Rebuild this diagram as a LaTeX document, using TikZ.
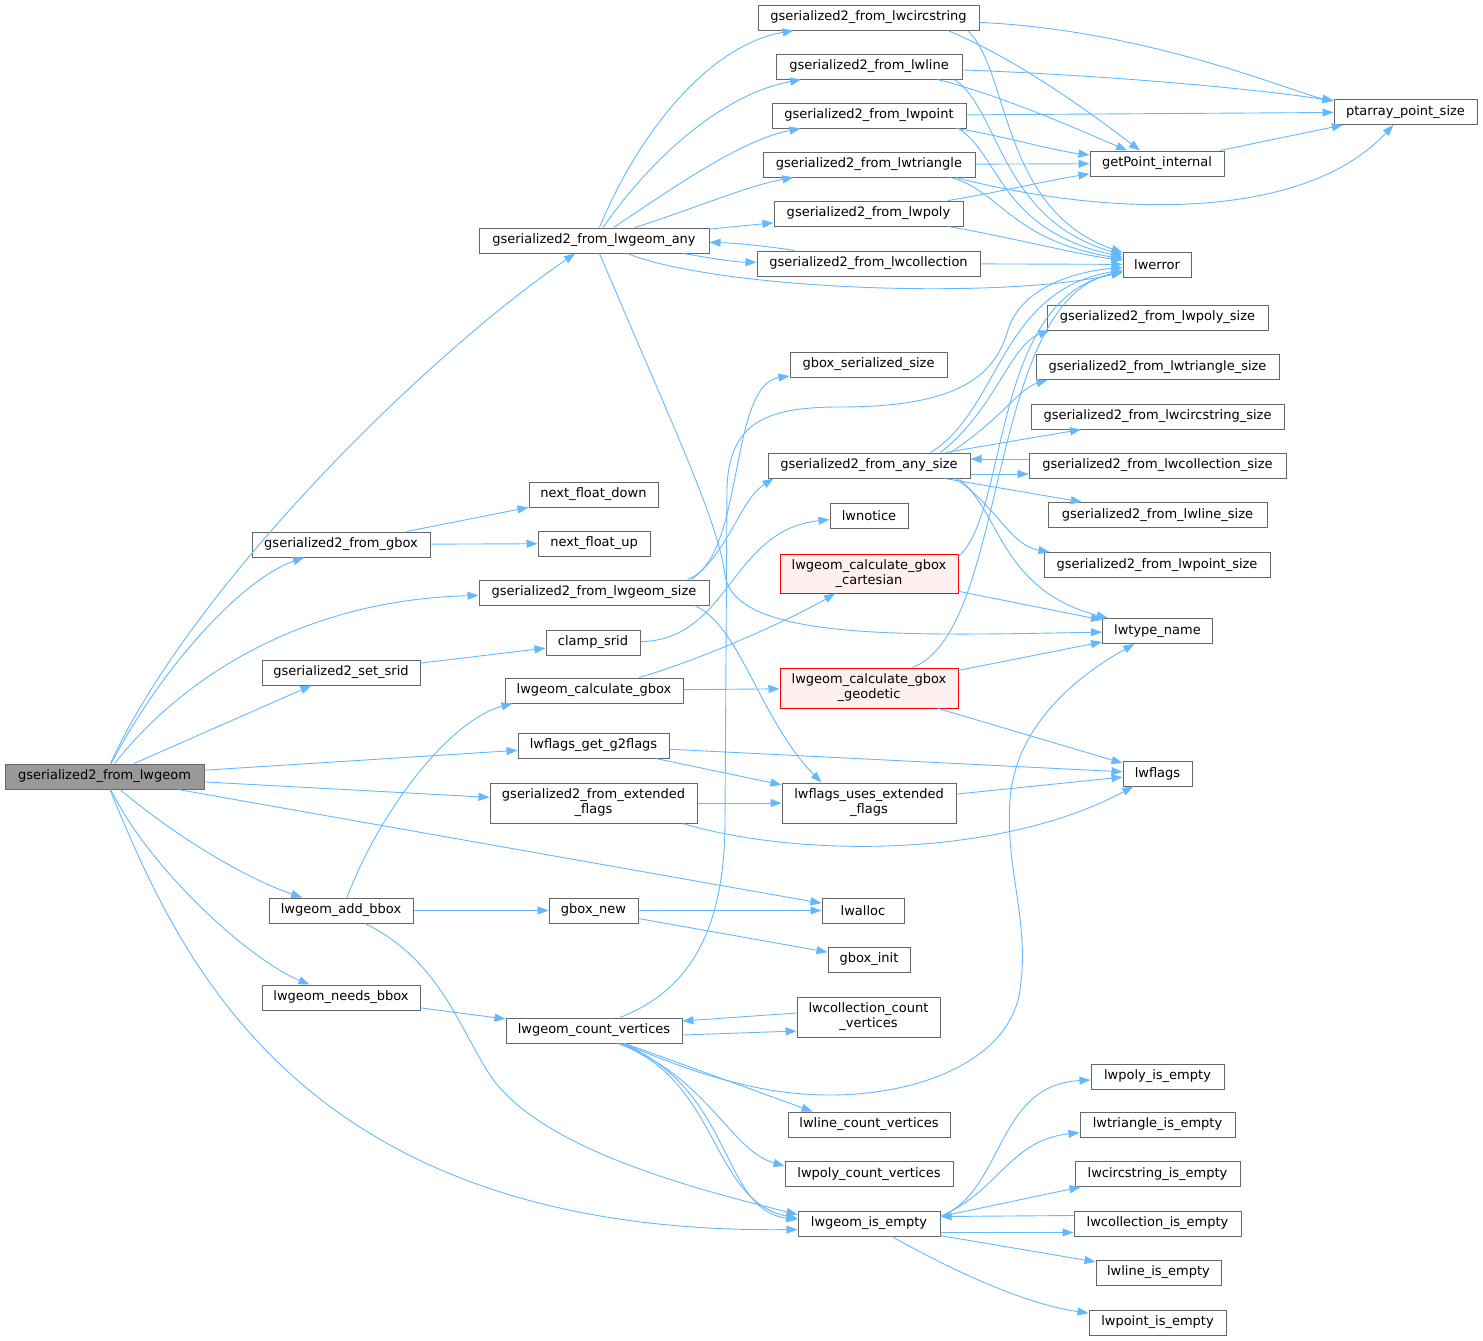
\documentclass[tikz,border=0pt]{standalone}
\usepackage{fontspec}
\setmainfont{DejaVu Sans}
\usetikzlibrary{arrows.meta}
\definecolor{eb}{HTML}{63B8FF}
\definecolor{bd}{HTML}{666666}
\definecolor{mainfill}{HTML}{999999}
\definecolor{hotline}{HTML}{FF0000}
\definecolor{hotfill}{HTML}{FFF0F0}
\begin{document}
\begin{tikzpicture}[x=1pt,y=-1pt,
  box/.style={draw=bd, fill=white, line width=1pt, inner sep=0pt, minimum height=25pt,
    font=\fontsize{13}{15}\selectfont, align=center},
  mainbox/.style={box, fill=mainfill},
  hotbox/.style={box, draw=hotline, fill=hotfill, minimum height=40pt},
  twobox/.style={box, minimum height=40pt},
  edg/.style={draw=eb, line width=0.9pt, -{Triangle[length=11pt,width=8pt]}}
]
\useasboundingbox (0,0) rectangle (1483,1341);
% ---------- nodes ----------
\node[mainbox, minimum width=199pt] (main) at (104.5,776.5) {gserialized2\_from\_lwgeom};
\node[box, minimum width=230pt] (any) at (594,240.5) {gserialized2\_from\_lwgeom\_any};
\node[box, minimum width=178pt] (fgbox) at (341,544.5) {gserialized2\_from\_gbox};
\node[box, minimum width=230pt] (lsize) at (594,592.5) {gserialized2\_from\_lwgeom\_size};
\node[box, minimum width=158pt] (setsrid) at (341,672.5) {gserialized2\_set\_srid};
\node[box, minimum width=151pt] (g2flags) at (593.5,745.5) {lwflags\_get\_g2flags};
\node[twobox, minimum width=207pt] (extflags) at (593.5,803) {gserialized2\_from\_extended\\\_flags};
\node[box, minimum width=144pt] (addbbox) at (341,910.5) {lwgeom\_add\_bbox};
\node[box, minimum width=158pt] (needsbbox) at (341,997.5) {lwgeom\_needs\_bbox};
\node[box, minimum width=178pt] (calcgbox) at (594,690.5) {lwgeom\_calculate\_gbox};
\node[box, minimum width=94pt] (clamp) at (593,642.5) {clamp\_srid};
\node[box, minimum width=89pt] (gboxnew) at (593.5,910.5) {gbox\_new};
\node[box, minimum width=176pt] (countv) at (594,1030.5) {lwgeom\_count\_vertices};
\node[box, minimum width=129pt] (nfdown) at (593.5,494.5) {next\_float\_down};
\node[box, minimum width=112pt] (nfup) at (594,543.5) {next\_float\_up};
\node[box, minimum width=221pt] (circ) at (868.5,17.5) {gserialized2\_from\_lwcircstring};
\node[box, minimum width=186pt] (line) at (869,66.5) {gserialized2\_from\_lwline};
\node[box, minimum width=194pt] (point) at (869,115.5) {gserialized2\_from\_lwpoint};
\node[box, minimum width=212pt] (tri) at (869,164.5) {gserialized2\_from\_lwtriangle};
\node[box, minimum width=189pt] (poly) at (868.5,213.5) {gserialized2\_from\_lwpoly};
\node[box, minimum width=223pt] (coll) at (868.5,263.5) {gserialized2\_from\_lwcollection};
\node[box, minimum width=157pt] (gbss) at (868.5,364.5) {gbox\_serialized\_size};
\node[box, minimum width=202pt] (anysize) at (869,465.5) {gserialized2\_from\_any\_size};
\node[box, minimum width=78pt] (lwnotice) at (869,515.5) {lwnotice};
\node[hotbox, minimum width=178pt, minimum height=39pt] (cart) at (869,573.5) {lwgeom\_calculate\_gbox\\\_cartesian};
\node[hotbox, minimum width=178pt] (geod) at (869,688) {lwgeom\_calculate\_gbox\\\_geodetic};
\node[twobox, minimum width=174pt] (usesext) at (869,803) {lwflags\_uses\_extended\\\_flags};
\node[box, minimum width=82pt] (lwalloc) at (863,910.5) {lwalloc};
\node[box, minimum width=82pt] (gboxinit) at (869,959.5) {gbox\_init};
\node[twobox, minimum width=143pt] (collcv) at (868.5,1017) {lwcollection\_count\\\_vertices};
\node[box, minimum width=162pt] (linecv) at (869,1124.5) {lwline\_count\_vertices};
\node[box, minimum width=168pt] (polycv) at (869,1174) {lwpoly\_count\_vertices};
\node[box, minimum width=142pt] (isempty) at (869,1223.5) {lwgeom\_is\_empty};
\node[box, minimum width=143pt] (ptarr) at (1405.5,112) {ptarray\_point\_size};
\node[box, minimum width=134pt] (getpt) at (1157,163.5) {getPoint\_internal};
\node[box, minimum width=68pt] (lwerror) at (1157,264.5) {lwerror};
\node[box, minimum width=221pt] (polysize) at (1157.5,317.5) {gserialized2\_from\_lwpoly\_size};
\node[box, minimum width=243pt] (trisize) at (1157.5,367) {gserialized2\_from\_lwtriangle\_size};
\node[box, minimum width=253pt] (circsize) at (1157.5,416.5) {gserialized2\_from\_lwcircstring\_size};
\node[box, minimum width=257pt] (collsize) at (1157.5,465.5) {gserialized2\_from\_lwcollection\_size};
\node[box, minimum width=219pt] (linesize) at (1157.5,515) {gserialized2\_from\_lwline\_size};
\node[box, minimum width=226pt] (pointsize) at (1157,565) {gserialized2\_from\_lwpoint\_size};
\node[box, minimum width=110pt] (lwtype) at (1157.5,631) {lwtype\_name};
\node[box, minimum width=69pt] (lwflags) at (1157.5,773.5) {lwflags};
\node[box, minimum width=133pt] (polyie) at (1157.5,1076.5) {lwpoly\_is\_empty};
\node[box, minimum width=155pt] (triie) at (1157.5,1124.5) {lwtriangle\_is\_empty};
\node[box, minimum width=165pt] (circie) at (1157.5,1174) {lwcircstring\_is\_empty};
\node[box, minimum width=167pt] (collie) at (1157.5,1223.5) {lwcollection\_is\_empty};
\node[box, minimum width=125pt] (lineie) at (1158.5,1272.5) {lwline\_is\_empty};
\node[box, minimum width=137pt] (pointie) at (1157.5,1322.5) {lwpoint\_is\_empty};
% ---------- edges ----------
% from gserialized2_from_lwgeom
\draw[edg] (main) .. controls (190,590) and (420,360) .. (any);
\draw[edg] (main) .. controls (160,670) and (240,580) .. (fgbox);
\draw[edg] (main) .. controls (180,680) and (300,600) .. (lsize);
\draw[edg] (main) -- (setsrid);
\draw[edg] (main) -- (g2flags);
\draw[edg] (main) -- (extflags);
\draw[edg] (main) -- (lwalloc);
\draw[edg] (main) .. controls (180,840) and (250,880) .. (addbbox);
\draw[edg] (main) .. controls (150,870) and (250,960) .. (needsbbox);
\draw[edg] (main) .. controls (180,960) and (300,1235) .. ([yshift=-6pt]isempty.west);
% from gserialized2_from_lwgeom_any
\draw[edg] (any) .. controls (640,130) and (710,45) .. (circ);
\draw[edg] (any) .. controls (650,160) and (720,95) .. (line);
\draw[edg] (any) .. controls (670,190) and (740,140) .. (point);
\draw[edg] (any) .. controls (690,210) and (750,185) .. (tri);
\draw[edg] (any) -- (poly);
\draw[edg] (any) .. controls (700,256) and (730,262) .. (coll);
\draw[edg] (coll) .. controls (780,248) and (740,243) .. (any);
\draw[edg] (any) .. controls (720,290) and (1000,300) .. (lwerror);
\draw[edg] (any) .. controls (670,420) and (718,520) .. (725,575) .. controls (735,640) and (900,636) .. (lwtype);
% from the serializers
\draw[edg] (circ) .. controls (1150,30) and (1300,95) .. (ptarr);
\draw[edg] ([xshift=-32pt]circ.south east) .. controls (1020,60) and (1100,120) .. (getpt);
\draw[edg] ([xshift=-12pt]circ.south east) .. controls (1010,70) and (1000,210) .. (lwerror);
\draw[edg] (line) .. controls (1100,75) and (1250,88) .. (ptarr);
\draw[edg] ([xshift=-25pt]line.south east) .. controls (1000,95) and (1080,130) .. (getpt);
\draw[edg] ([xshift=-8pt]line.south east) .. controls (1000,110) and (1000,220) .. (lwerror);
\draw[edg] (point) -- (ptarr);
\draw[edg] (point) .. controls (1000,135) and (1050,150) .. (getpt);
\draw[edg] ([xshift=-8pt]point.south east) .. controls (1000,155) and (1000,230) .. (lwerror);
\draw[edg] (tri) -- (getpt);
\draw[edg] ([xshift=-20pt]tri.south east) .. controls (1100,215) and (1300,225) .. (ptarr);
\draw[edg] ([xshift=-25pt]tri.south east) .. controls (1000,190) and (1010,240) .. (lwerror);
\draw[edg] (poly) .. controls (1000,192) and (1050,180) .. (getpt);
\draw[edg] (poly) .. controls (1000,235) and (1080,255) .. (lwerror);
\draw[edg] (coll) -- (lwerror);
\draw[edg] (getpt) -- (ptarr);
% from gserialized2_from_lwgeom_size
\draw[edg] ([xshift=-22pt]lsize.north east) .. controls (745,560) and (728,385) .. (gbss);
\draw[edg] ([xshift=-18pt]lsize.north east) .. controls (730,550) and (740,500) .. ([xshift=6pt]anysize.south west);
\draw[edg] ([xshift=-15pt]lsize.south east) .. controls (740,625) and (760,720) .. ([xshift=40pt]usesext.north west);
% from gserialized2_from_any_size
\draw[edg] ([xshift=-30pt]anysize.north east) .. controls (995,410) and (1010,345) .. ([xshift=3pt]polysize.south west);
\draw[edg] ([xshift=-20pt]anysize.north east) .. controls (1000,420) and (1020,388) .. ([xshift=12pt]trisize.south west);
\draw[edg] (anysize) -- (circsize);
\draw[edg] ([yshift=-8.5pt]anysize.east) -- ([yshift=-8.5pt]collsize.west);
\draw[edg] ([yshift=6.5pt]collsize.west) -- ([yshift=6.5pt]anysize.east);
\draw[edg] (anysize) -- (linesize);
\draw[edg] ([xshift=-15pt]anysize.south east) .. controls (1000,510) and (1010,545) .. ([xshift=6pt]pointsize.north west);
\draw[edg] ([xshift=-40pt]anysize.north east) .. controls (1000,410) and (1000,290) .. (lwerror);
\draw[edg] ([xshift=-12pt]anysize.south east) .. controls (1000,510) and (1000,590) .. (lwtype);
% bbox calculation
\draw[edg] (clamp) .. controls (730,640) and (730,530) .. (lwnotice);
\draw[edg] (calcgbox) .. controls (700,660) and (790,620) .. (cart);
\draw[edg] (calcgbox) -- (geod);
\draw[edg] ([yshift=-3pt]cart.north east) .. controls (1010,510) and (990,300) .. (lwerror);
\draw[edg] (cart) -- (lwtype);
\draw[edg] ([xshift=-46pt]geod.north east) .. controls (1010,630) and (985,300) .. (lwerror);
\draw[edg] (geod) -- (lwtype);
\draw[edg] (geod) -- (lwflags);
% flags
\draw[edg] (g2flags) -- (lwflags);
\draw[edg] (g2flags) -- (usesext);
\draw[edg] (extflags) -- (usesext);
\draw[edg] ([xshift=-15pt]extflags.south east) .. controls (800,858) and (1000,858) .. (lwflags);
\draw[edg] (usesext) -- (lwflags);
% left column
\draw[edg] (setsrid) -- (clamp);
\draw[edg] (fgbox) -- (nfdown);
\draw[edg] (fgbox) -- (nfup);
\draw[edg] ([xshift=6pt]addbbox.north) .. controls (380,810) and (450,720) .. ([xshift=8pt]calcgbox.south west);
\draw[edg] (addbbox) -- (gboxnew);
\draw[edg] ([xshift=24pt]addbbox.south) .. controls (440,960) and (460,1030) .. (490,1075) .. controls (540,1150) and (700,1190) .. ([yshift=9pt]isempty.west);
\draw[edg] (gboxnew) -- (lwalloc);
\draw[edg] (gboxnew) -- (gboxinit);
\draw[edg] (needsbbox) -- (countv);
% lwgeom_count_vertices
\draw[edg] ([yshift=-4.5pt]countv.east) -- ([yshift=-14pt]collcv.west);
\draw[edg] ([yshift=4pt]collcv.west) -- ([yshift=9.5pt]countv.east);
\draw[edg] ([xshift=31pt]countv.south) -- ([xshift=25pt]linecv.north west);
\draw[edg] ([xshift=26pt]countv.south) .. controls (710,1080) and (730,1150) .. ([yshift=8pt]polycv.west);
\draw[edg] ([xshift=24pt]countv.south) .. controls (720,1080) and (710,1200) .. ([yshift=5pt]isempty.west);
\draw[edg] ([xshift=28pt]countv.south) .. controls (735,1090) and (720,1210) .. ([yshift=4pt]isempty.west);
\draw[edg] ([xshift=26pt]countv.north) .. controls (690,990) and (725,930) .. (725,820) -- (727,490) .. controls (728,420) and (770,407) .. (840,407) .. controls (960,407) and (995,375) .. (1008,330) .. controls (1020,290) and (1070,272) .. (lwerror);
\draw[edg] ([xshift=30pt]countv.south) .. controls (720,1085) and (780,1095) .. (830,1095) .. controls (920,1095) and (1010,1060) .. (1020,990) .. controls (1030,920) and (1005,870) .. (1010,800) .. controls (1015,730) and (1070,680) .. (lwtype);
% lwgeom_is_empty
\draw[edg] ([yshift=7pt]isempty.east) .. controls (1005,1190) and (995,1085) .. (polyie);
\draw[edg] ([yshift=7pt]isempty.east) .. controls (1000,1190) and (1010,1140) .. (triie);
\draw[edg] ([yshift=7pt]isempty.east) -- ([xshift=6pt]circie.south west);
\draw[edg] ([yshift=-9pt]isempty.east) -- ([yshift=-9pt]collie.west);
\draw[edg] ([yshift=8pt]collie.west) -- ([yshift=7pt]isempty.east);
\draw[edg] (isempty) -- (lineie);
\draw[edg] (isempty) .. controls (960,1275) and (1030,1305) .. (pointie);
\end{tikzpicture}
\end{document}
